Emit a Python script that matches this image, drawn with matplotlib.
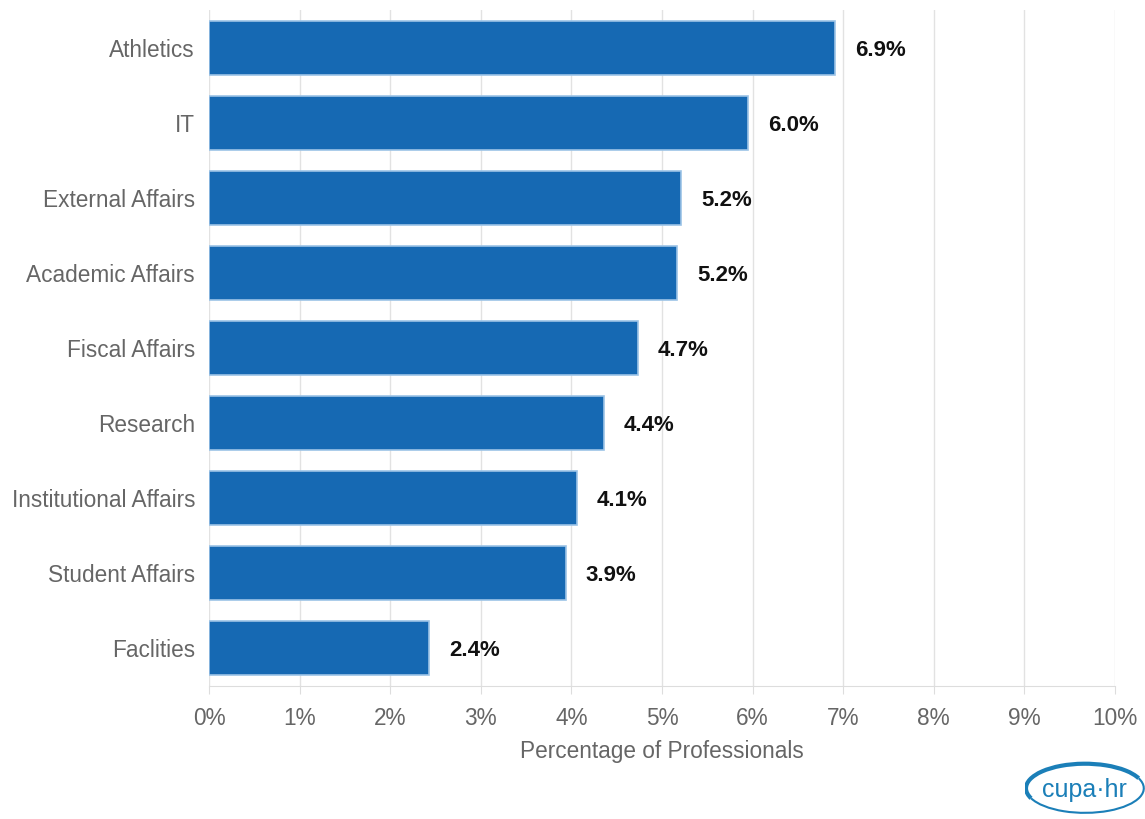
import matplotlib.pyplot as plt
from matplotlib.patches import Arc
import numpy as np

plt.rcParams['font.family'] = ['Liberation Sans', 'DejaVu Sans']

categories = ["Athletics", "IT", "External Affairs", "Academic Affairs", "Fiscal Affairs",
              "Research", "Institutional Affairs", "Student Affairs", "Faclities"]
values = [6.91, 5.95, 5.21, 5.17, 4.73, 4.36, 4.06, 3.94, 2.43]
xticks = np.arange(0, 11, 1)

fig = plt.figure(figsize=(11.45, 8.19), dpi=100)
ax = fig.add_axes([0.1825, 0.1624, 0.7913, 0.8254])

y = np.arange(len(categories))
ax.barh(y, values, height=0.72, color="#1669b3", edgecolor="#9cc3e6", linewidth=1.2, zorder=3)
for yi, v in zip(y, values):
    ax.text(v + 0.22, yi, f"{v:.1f}%", va="center_baseline", ha="left", fontsize=16,
            fontweight="bold", color="#111111")

ax.set_ylim(len(categories) - 0.5, -0.5)
ax.set_xlim(0, 10)
ax.set_yticks(y)
ax.set_yticklabels(categories, fontsize=16.3, color="#666666")
ax.set_xticks(xticks)
ax.set_xticklabels([f"{t}%" for t in xticks], fontsize=16.3, color="#666666")
ax.tick_params(axis="y", length=0, pad=10)
ax.tick_params(axis="x", length=6, color="#dddddd", pad=9)
ax.grid(axis="x", color="#e2e2e2", linewidth=1, zorder=0)
for s in ["top", "right", "left"]:
    ax.spines[s].set_visible(False)
ax.spines["bottom"].set_color("#dddddd")
ax.set_xlabel("Percentage of Professionals", fontsize=16.3, color="#666666", labelpad=7)

# small logo in the lower right corner
lax = fig.add_axes([0.895, 0.0, 0.105, 0.075])
lax.set_xlim(0, 1)
lax.set_ylim(0, 1)
lax.axis("off")
lax.add_patch(Arc((0.5, 0.5), 0.98, 0.8, theta1=20, theta2=200, color="#1b7fb8", lw=3))
lax.add_patch(Arc((0.5, 0.5), 0.98, 0.8, theta1=200, theta2=380, color="#1b7fb8", lw=1.5))
lax.text(0.5, 0.48, "cupa·hr", ha="center", va="center", fontsize=18, color="#1b7fb8")

fig.savefig("out.png", dpi=100)
